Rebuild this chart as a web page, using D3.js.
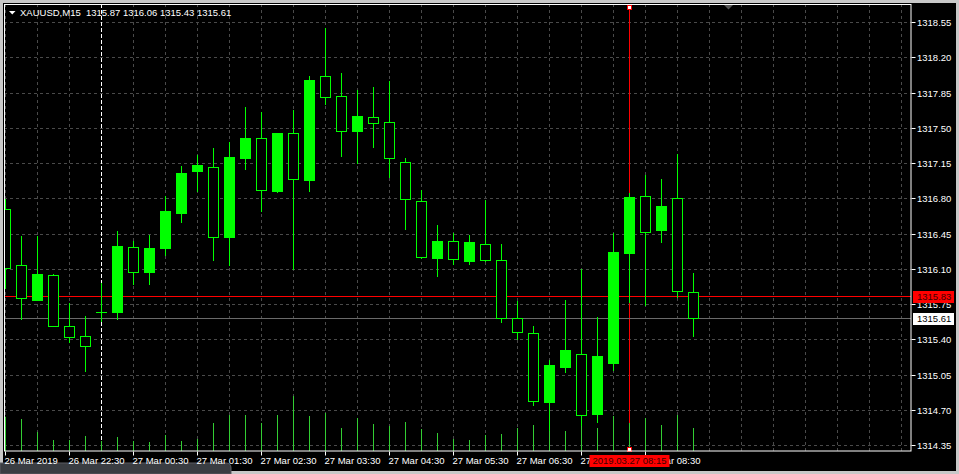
<!DOCTYPE html>
<html><head><meta charset="utf-8">
<script src="https://cdn.jsdelivr.net/npm/d3@7"></script>
<style>html,body{margin:0;padding:0;background:#c8c8c8;overflow:hidden}svg{display:block}</style>
</head><body><svg id="c" width="959" height="474"></svg>
<script>
const times = ["2019.03.26 21:30","2019.03.26 21:45","2019.03.26 22:00","2019.03.26 22:15","2019.03.26 22:30","2019.03.26 22:45",
"2019.03.27 00:00","2019.03.27 00:15","2019.03.27 00:30","2019.03.27 00:45","2019.03.27 01:00","2019.03.27 01:15","2019.03.27 01:30","2019.03.27 01:45",
"2019.03.27 02:00","2019.03.27 02:15","2019.03.27 02:30","2019.03.27 02:45","2019.03.27 03:00","2019.03.27 03:15","2019.03.27 03:30","2019.03.27 03:45",
"2019.03.27 04:00","2019.03.27 04:15","2019.03.27 04:30","2019.03.27 04:45","2019.03.27 05:00","2019.03.27 05:15","2019.03.27 05:30","2019.03.27 05:45",
"2019.03.27 06:00","2019.03.27 06:15","2019.03.27 06:30","2019.03.27 06:45","2019.03.27 07:00","2019.03.27 07:15","2019.03.27 07:30","2019.03.27 07:45",
"2019.03.27 08:00","2019.03.27 08:15","2019.03.27 08:30","2019.03.27 08:45","2019.03.27 09:00","2019.03.27 09:15"];
const open  = [1316.69,1316.14,1315.79,1316.04,1315.53,1315.43,1315.67,1315.67,1316.32,1316.07,1316.31,1316.65,1317.07,1317.11,1316.42,1317.20,1317.40,1316.87,1317.45,1316.98,1318.01,1317.82,1317.47,1317.61,1317.56,1317.16,1316.77,1316.21,1316.38,1316.18,1316.35,1316.19,1315.61,1315.46,1314.78,1315.13,1315.26,1314.66,1315.17,1316.26,1316.82,1316.49,1316.80,1315.87];
const high  = [1316.79,1316.43,1316.43,1316.05,1315.76,1315.63,1315.96,1316.48,1316.38,1316.44,1316.82,1317.12,1317.23,1317.30,1317.36,1317.71,1317.66,1317.45,1317.68,1318.01,1318.49,1318.04,1317.88,1317.91,1317.96,1317.20,1316.88,1316.54,1316.46,1316.44,1316.78,1316.35,1315.78,1315.53,1315.20,1315.79,1316.10,1315.62,1316.46,1316.85,1317.03,1316.99,1317.24,1316.06];
const low   = [1315.91,1315.60,1315.79,1315.53,1315.37,1315.09,1315.58,1315.60,1315.95,1315.95,1316.24,1316.57,1316.87,1316.19,1316.14,1317.09,1316.67,1316.86,1316.10,1316.87,1317.74,1317.22,1317.15,1317.31,1317.01,1316.50,1316.21,1316.03,1316.15,1316.15,1316.18,1315.57,1315.40,1314.75,1314.50,1315.08,1314.55,1314.58,1315.10,1315.77,1315.74,1316.37,1315.82,1315.43];
const close = [1316.11,1315.81,1316.05,1315.53,1315.42,1315.34,1315.67,1316.33,1316.07,1316.31,1316.67,1317.05,1317.13,1316.42,1317.21,1317.40,1316.88,1317.45,1316.99,1317.97,1317.81,1317.47,1317.62,1317.55,1317.20,1316.79,1316.22,1316.38,1316.20,1316.37,1316.19,1315.61,1315.47,1314.79,1315.15,1315.30,1314.65,1315.24,1316.27,1316.81,1316.47,1316.72,1315.88,1315.61];
const volume = [343,320,190,110,110,150,100,140,100,90,160,100,120,280,360,360,280,360,550,350,380,230,330,270,250,290,220,180,120,110,160,170,230,260,300,200,380,230,350,280,330,260,360,230];
const yTicks = [1314.35,1314.70,1315.05,1315.40,1315.75,1316.10,1316.45,1316.80,1317.15,1317.50,1317.85,1318.20,1318.55];
const xTickIndex  = [0,4,8,12,16,20,24,28,32,36,40];
const xTickLabels = ["26 Mar 2019","26 Mar 22:30","27 Mar 00:30","27 Mar 01:30","27 Mar 02:30","27 Mar 03:30","27 Mar 04:30","27 Mar 05:30","27 Mar 06:30","27 Mar 07:30","27 Mar 08:30"];
const symbol = "XAUUSD,M15";
const askPrice = 1315.83;
const bidPrice = 1315.61;
const daySepIndex = 6;
const cursorIndex = 39;
const cursorLabel = "2019.03.27 08:15";

const svg = d3.select("#c");
const W = 959, H = 474;
const L = 4, R = 911.5, T = 4, B = 451.5;
const FONT = "'Liberation Sans', Arial, sans-serif";
const FS = "9.5px";
const LIME = "#00ff00";

const x = d3.scaleLinear().domain([0, 1]).range([5.5, 21.5]);
const y = d3.scaleLinear().domain([1314.35, 1318.55]).range([445.3, 22]);
const v = d3.scaleLinear().domain([0, 1000]).range([451, 351]);
const py = p => Math.round(y(p));

// window frame
svg.append("rect").attr("x",0).attr("y",0).attr("width",W).attr("height",H).attr("fill","#c8c8c8");
svg.append("rect").attr("x",3).attr("y",3).attr("width",953).attr("height",468).attr("fill","#000");
// bottom-left dark tab
svg.append("path").attr("d","M0,463 L226,463 Q231,463 231,468 L231,474 L0,474 Z").attr("fill","#3a3d42").attr("stroke","#5a5d62");

svg.append("defs").append("clipPath").attr("id","plot").append("rect")
  .attr("x",L+0.5).attr("y",T+0.5).attr("width",R-L-1).attr("height",B-T-1);
const g = svg.append("g").attr("clip-path","url(#plot)");

// grid
const gridIdx = d3.range(0, 57, 2);
g.selectAll(".vg").data(gridIdx).enter().append("line")
  .attr("x1",d=>x(d)).attr("x2",d=>x(d)).attr("y1",T).attr("y2",B)
  .attr("stroke","#4a4a4a").attr("stroke-dasharray","3,3");
g.selectAll(".hg").data(yTicks).enter().append("line")
  .attr("x1",L).attr("x2",R).attr("y1",d=>py(d)+0.5).attr("y2",d=>py(d)+0.5)
  .attr("stroke","#4a4a4a").attr("stroke-dasharray","3,3");

// day separator
g.append("line").attr("x1",x(daySepIndex)).attr("x2",x(daySepIndex)).attr("y1",T).attr("y2",B)
  .attr("stroke","#fff").attr("stroke-dasharray","4,2");

// cursor vertical line
g.append("line").attr("x1",x(cursorIndex)).attr("x2",x(cursorIndex)).attr("y1",9).attr("y2",447)
  .attr("stroke","#ff0000");

// volumes
g.selectAll(".vol").data(volume).enter().append("line")
  .attr("x1",(d,i)=>x(i)).attr("x2",(d,i)=>x(i)).attr("y1",v(0)).attr("y2",d=>v(d))
  .attr("stroke","#32cd32");

// bid / ask lines
g.append("line").attr("x1",L).attr("x2",R).attr("y1",py(bidPrice)+0.5).attr("y2",py(bidPrice)+0.5).attr("stroke","#6a6a6a");
g.append("line").attr("x1",L).attr("x2",R).attr("y1",py(askPrice)+0.5).attr("y2",py(askPrice)+0.5).attr("stroke","#ff0000");

// candles
const idx = d3.range(times.length);
g.selectAll(".wick").data(idx).enter().append("line")
  .attr("x1",i=>x(i)).attr("x2",i=>x(i)).attr("y1",i=>py(high[i])).attr("y2",i=>py(low[i])+1)
  .attr("stroke",LIME);
idx.forEach(i=>{
  const o = py(open[i]), c = py(close[i]);
  if (o === c) {
    g.append("line").attr("x1",x(i)-5.5).attr("x2",x(i)+5.5).attr("y1",o+0.5).attr("y2",o+0.5).attr("stroke",LIME);
  } else if (close[i] > open[i]) {
    g.append("rect").attr("x",x(i)-5.5).attr("width",11).attr("y",c).attr("height",o-c+1).attr("fill",LIME);
  } else {
    g.append("rect").attr("x",x(i)-5).attr("width",10).attr("y",o+0.5).attr("height",c-o)
      .attr("fill","#000").attr("stroke",LIME);
  }
});

// markers on cursor line
[5.5, 447.5].forEach(yy=>{
  svg.append("rect").attr("x",x(cursorIndex)-2).attr("y",yy).attr("width",4).attr("height",4)
    .attr("fill","#fff").attr("stroke","#ff0000");
});
// chart shift triangle
svg.append("path").attr("d","M724,5 L733,5 L728.5,9.5 Z").attr("fill","#555");

// border
svg.append("rect").attr("x",L+0.5).attr("y",T+0.5).attr("width",R-L-1).attr("height",B-T-1)
  .attr("fill","none").attr("stroke","#fff");

// y axis
const ya = svg.append("g");
ya.selectAll(".yt").data(yTicks).enter().append("line")
  .attr("x1",R).attr("x2",R+4).attr("y1",d=>py(d)+0.5).attr("y2",d=>py(d)+0.5).attr("stroke","#fff");
ya.selectAll(".yl").data(yTicks).enter().append("text")
  .attr("x",917).attr("y",d=>py(d)+4).attr("fill","#fff")
  .attr("font-family",FONT).attr("font-size",FS).text(d=>d.toFixed(2));

// ask label
svg.append("rect").attr("x",913).attr("y",py(askPrice)-5).attr("width",41).attr("height",12).attr("fill","#ff0000");
svg.append("text").attr("x",917).attr("y",py(askPrice)+4).attr("fill","#400000")
  .attr("font-family",FONT).attr("font-size",FS).text(askPrice.toFixed(2));
// bid label
svg.append("rect").attr("x",913).attr("y",py(bidPrice)-5).attr("width",41).attr("height",12).attr("fill","#fff");
svg.append("text").attr("x",917).attr("y",py(bidPrice)+4).attr("fill","#000")
  .attr("font-family",FONT).attr("font-size",FS).text(bidPrice.toFixed(2));

// x axis
const xa = svg.append("g");
xa.selectAll(".xt").data(xTickIndex).enter().append("line")
  .attr("x1",d=>x(d)).attr("x2",d=>x(d)).attr("y1",B).attr("y2",B+4).attr("stroke","#fff");
xa.selectAll(".xl").data(xTickIndex).enter().append("text")
  .attr("x",d=>x(d)-1).attr("y",464).attr("fill","#fff")
  .attr("font-family",FONT).attr("font-size",FS).text((d,i)=>xTickLabels[i]);
// cursor time label
svg.append("rect").attr("x",x(cursorIndex)-40).attr("y",455).attr("width",80).attr("height",12).attr("fill","#ff0000");
svg.append("text").attr("x",x(cursorIndex)).attr("y",464).attr("text-anchor","middle").attr("fill","#400000")
  .attr("font-family",FONT).attr("font-size",FS).text(cursorLabel);

// header
svg.append("path").attr("d","M9,11 L15.5,11 L12.25,14.5 Z").attr("fill","#fff");
const last = times.length-1;
svg.append("text").attr("x",20).attr("y",16).attr("fill","#fff").attr("font-family",FONT).attr("font-size",FS)
  .attr("xml:space","preserve")
  .text(symbol + "  " + [open[last],high[last],low[last],close[last]].map(d=>d.toFixed(2)).join(" "));
</script></body></html>
